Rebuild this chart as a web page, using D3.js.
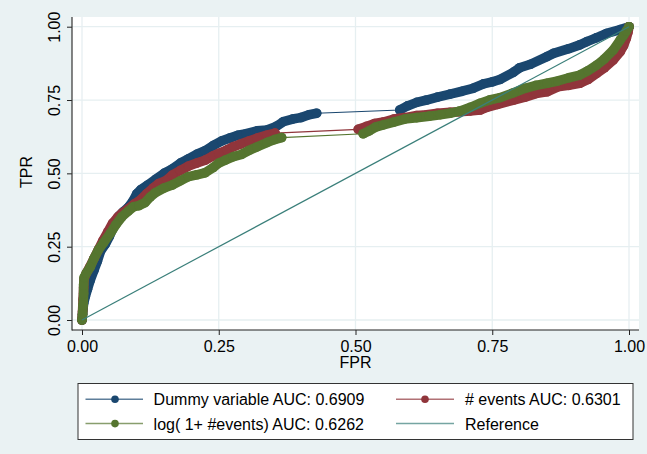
<!DOCTYPE html>
<html>
<head>
<meta charset="utf-8">
<script src="https://cdn.jsdelivr.net/npm/d3@7"></script>
<style>
  html, body { margin: 0; padding: 0; background: #EAF2F3; }
  svg { display: block; }
  text { font-family: "Liberation Sans", Arial, Helvetica, sans-serif; fill: #000; }
</style>
</head>
<body>
<svg id="chart" width="647" height="454"></svg>
<script>
// ---------- DATA ----------
const xTicks = [0, 0.25, 0.5, 0.75, 1];
const yTicks = [0, 0.25, 0.5, 0.75, 1];
const xTitle = "FPR";
const yTitle = "TPR";

const dummyFPR = [0, 0.001, 0.002, 0.003, 0.006, 0.010, 0.015, 0.022, 0.028, 0.034, 0.043, 0.050, 0.056, 0.061, 0.068, 0.076, 0.085, 0.093, 0.100, 0.108, 0.120, 0.135, 0.150, 0.165, 0.180, 0.195, 0.210, 0.225, 0.240, 0.256, 0.270, 0.285, 0.300, 0.320, 0.338, 0.355, 0.368, 0.385, 0.400, 0.415, 0.429,
  0.581, 0.595, 0.612, 0.630, 0.650, 0.673, 0.695, 0.715, 0.734, 0.750, 0.764, 0.789, 0.800, 0.820, 0.850, 0.862, 0.890, 0.910, 0.923, 0.940, 0.959, 0.984, 1.0];
const dummyTPR = [0, 0.02, 0.04, 0.057, 0.08, 0.105, 0.135, 0.17, 0.20, 0.235, 0.26, 0.285, 0.31, 0.335, 0.355, 0.37, 0.385, 0.405, 0.43, 0.445, 0.46, 0.48, 0.50, 0.515, 0.535, 0.55, 0.565, 0.577, 0.595, 0.611, 0.62, 0.63, 0.635, 0.645, 0.648, 0.66, 0.676, 0.685, 0.69, 0.70, 0.705,
  0.716, 0.73, 0.742, 0.75, 0.76, 0.77, 0.78, 0.79, 0.805, 0.812, 0.82, 0.845, 0.86, 0.872, 0.898, 0.909, 0.925, 0.938, 0.949, 0.962, 0.977, 0.99, 1.0];

const eventsFPR = [0, 0.001, 0.002, 0.003, 0.004, 0.008, 0.014, 0.022, 0.030, 0.038, 0.047, 0.056, 0.065, 0.073, 0.085, 0.095, 0.104, 0.118, 0.130, 0.140, 0.155, 0.165, 0.180, 0.195, 0.210, 0.225, 0.240, 0.250, 0.265, 0.277, 0.290, 0.305, 0.320, 0.338, 0.353,
  0.505, 0.520, 0.535, 0.551, 0.570, 0.590, 0.612, 0.630, 0.650, 0.673, 0.690, 0.710, 0.728, 0.740, 0.760, 0.789, 0.810, 0.830, 0.850, 0.870, 0.890, 0.910, 0.925, 0.941, 0.955, 0.971, 0.984, 0.990, 0.995, 0.998, 1.0];
const eventsTPR = [0, 0.03, 0.07, 0.11, 0.14, 0.16, 0.18, 0.21, 0.24, 0.27, 0.30, 0.33, 0.35, 0.364, 0.38, 0.395, 0.405, 0.43, 0.45, 0.465, 0.477, 0.494, 0.51, 0.525, 0.535, 0.545, 0.56, 0.568, 0.58, 0.591, 0.60, 0.61, 0.62, 0.63, 0.637,
  0.65, 0.66, 0.67, 0.675, 0.685, 0.69, 0.697, 0.70, 0.705, 0.708, 0.71, 0.713, 0.716, 0.725, 0.735, 0.75, 0.76, 0.772, 0.778, 0.795, 0.80, 0.807, 0.82, 0.841, 0.86, 0.886, 0.915, 0.935, 0.96, 0.98, 1.0];

const logFPR = [0, 0.001, 0.002, 0.003, 0.003, 0.004, 0.008, 0.015, 0.022, 0.030, 0.040, 0.052, 0.062, 0.073, 0.084, 0.094, 0.104, 0.115, 0.125, 0.134, 0.150, 0.165, 0.180, 0.195, 0.210, 0.225, 0.240, 0.250, 0.262, 0.277, 0.292, 0.305, 0.320, 0.338, 0.352, 0.365,
  0.514, 0.525, 0.537, 0.551, 0.570, 0.590, 0.612, 0.635, 0.655, 0.673, 0.690, 0.710, 0.728, 0.745, 0.764, 0.789, 0.810, 0.830, 0.850, 0.870, 0.890, 0.910, 0.925, 0.941, 0.955, 0.971, 0.984, 0.990, 0.995, 1.0];
const logTPR = [0, 0.02, 0.05, 0.09, 0.12, 0.145, 0.16, 0.18, 0.21, 0.239, 0.265, 0.296, 0.325, 0.352, 0.37, 0.386, 0.39, 0.40, 0.42, 0.434, 0.45, 0.46, 0.475, 0.489, 0.495, 0.502, 0.52, 0.535, 0.545, 0.557, 0.565, 0.578, 0.59, 0.605, 0.615, 0.622,
  0.635, 0.645, 0.658, 0.665, 0.675, 0.685, 0.69, 0.695, 0.70, 0.705, 0.712, 0.725, 0.739, 0.75, 0.758, 0.775, 0.79, 0.80, 0.807, 0.815, 0.826, 0.835, 0.85, 0.869, 0.89, 0.92, 0.955, 0.97, 0.985, 1.0];

const refFPR = [0, 1];
const refTPR = [0, 1];

const seriesNames = ["Dummy variable AUC: 0.6909", "# events AUC: 0.6301", "log( 1+ #events) AUC: 0.6262", "Reference"];
const seriesColors = ["#1A476F", "#90353B", "#55752F", "#3A7F7A"];

// ---------- LAYOUT ----------
const W = 647, H = 454;
const plotL = 72, plotR = 639, plotT = 17, plotB = 330;
const svg = d3.select("#chart");

svg.append("rect").attr("width", W).attr("height", H).attr("fill", "#EAF2F3");
svg.append("rect").attr("x", plotL).attr("y", plotT).attr("width", plotR - plotL).attr("height", plotB - plotT).attr("fill", "#fff");

const x = d3.scaleLinear().domain([0, 1]).range([82, 629]);
const y = d3.scaleLinear().domain([0, 1]).range([320, 26.7]);

// grid
const grid = svg.append("g");
grid.selectAll("line.h").data(yTicks).join("line")
  .attr("x1", plotL).attr("x2", plotR).attr("y1", d => y(d)).attr("y2", d => y(d))
  .attr("stroke", "#E6EFF1").attr("stroke-width", 1.3);
grid.selectAll("line.v").data(xTicks).join("line")
  .attr("y1", plotT).attr("y2", plotB).attr("x1", d => x(d)).attr("x2", d => x(d))
  .attr("stroke", "#E6EFF1").attr("stroke-width", 1.3);

// series
const R = 4.8;
function drawSeries(fpr, tpr, color) {
  const pts = fpr.map((f, i) => [x(f), y(tpr[i])]);
  const g = svg.append("g");
  // thin connecting line through all points
  g.append("path").attr("d", d3.line()(pts)).attr("fill", "none")
    .attr("stroke", color).attr("stroke-width", 1.2);
  // dense runs of markers form a band
  const runs = [];
  let cur = [pts[0]];
  for (let i = 1; i < pts.length; i++) {
    const dx = pts[i][0] - pts[i - 1][0], dy = pts[i][1] - pts[i - 1][1];
    if (Math.hypot(dx, dy) > 40) { runs.push(cur); cur = [pts[i]]; } else cur.push(pts[i]);
  }
  runs.push(cur);
  runs.forEach(r => {
    g.append("path").attr("d", d3.line()(r)).attr("fill", "none")
      .attr("stroke", color).attr("stroke-width", 2 * R)
      .attr("stroke-linejoin", "round").attr("stroke-linecap", "round");
  });
  g.selectAll("circle").data(pts).join("circle")
    .attr("cx", d => d[0]).attr("cy", d => d[1]).attr("r", R).attr("fill", color);
}
drawSeries(dummyFPR, dummyTPR, seriesColors[0]);
drawSeries(eventsFPR, eventsTPR, seriesColors[1]);
drawSeries(logFPR, logTPR, seriesColors[2]);

// reference line
svg.append("path")
  .attr("d", d3.line()(refFPR.map((f, i) => [x(f), y(refTPR[i])])))
  .attr("fill", "none").attr("stroke", seriesColors[3]).attr("stroke-width", 1.2);

// axes
const fmt = d3.format(".2f");
const yAxis = svg.append("g").attr("transform", `translate(${plotL},0)`)
  .call(d3.axisLeft(y).tickValues(yTicks).tickFormat(fmt).tickSize(5).tickSizeOuter(0));
yAxis.select(".domain").remove();
yAxis.selectAll(".tick line").attr("stroke", "#222");
yAxis.selectAll(".tick text")
  .attr("x", null).attr("dy", null).attr("text-anchor", "middle")
  .attr("transform", "translate(-12.5,0) rotate(-90)")
  .style("font-size", "16px").style("font-family", '"Liberation Sans", Arial, sans-serif').attr("fill", "#000");

const xAxis = svg.append("g").attr("transform", `translate(0,${plotB})`)
  .call(d3.axisBottom(x).tickValues(xTicks).tickFormat(fmt).tickSize(5).tickSizeOuter(0));
xAxis.select(".domain").remove();
xAxis.selectAll(".tick line").attr("stroke", "#222");
xAxis.selectAll(".tick text")
  .attr("y", 21.7).attr("dy", null)
  .style("font-size", "16px").style("font-family", '"Liberation Sans", Arial, sans-serif').attr("fill", "#000");

svg.append("line").attr("x1", plotL).attr("x2", plotL).attr("y1", plotT).attr("y2", plotB + 0.5)
  .attr("stroke", "#333").attr("stroke-width", 1.2);
svg.append("line").attr("x1", plotL).attr("x2", plotR).attr("y1", plotB).attr("y2", plotB)
  .attr("stroke", "#222").attr("stroke-width", 1.2);

// titles
svg.append("text").attr("x", x(0.5)).attr("y", 368.3).attr("text-anchor", "middle")
  .style("font-size", "16px").text(xTitle);
svg.append("text").attr("transform", `translate(31.7,172) rotate(-90)`).attr("text-anchor", "middle")
  .style("font-size", "16px").text(yTitle);

// legend
const lg = svg.append("g");
lg.append("rect").attr("x", 78).attr("y", 383.5).attr("width", 555).attr("height", 56)
  .attr("fill", "#fff").attr("stroke", "#333").attr("stroke-width", 1);
const legendPos = [
  { lx1: 85.5, lx2: 143, mx: 115, tx: 153.6, cy: 399.2 },
  { lx1: 396, lx2: 454, mx: 425, tx: 465, cy: 399.2 },
  { lx1: 85.5, lx2: 143, mx: 115, tx: 153.6, cy: 423.6 },
  { lx1: 396, lx2: 454, mx: 425, tx: 465, cy: 423.6 }
];
seriesNames.forEach((name, i) => {
  const p = legendPos[i];
  lg.append("line").attr("x1", p.lx1).attr("x2", p.lx2).attr("y1", p.cy).attr("y2", p.cy)
    .attr("stroke", seriesColors[i]).attr("stroke-width", 1.5).attr("stroke-opacity", 0.7);
  if (i < 3) lg.append("circle").attr("cx", p.mx).attr("cy", p.cy).attr("r", 3.8).attr("fill", seriesColors[i]);
  lg.append("text").attr("x", p.tx).attr("y", p.cy + 6).style("font-size", "16px").text(name);
});
</script>
</body>
</html>
